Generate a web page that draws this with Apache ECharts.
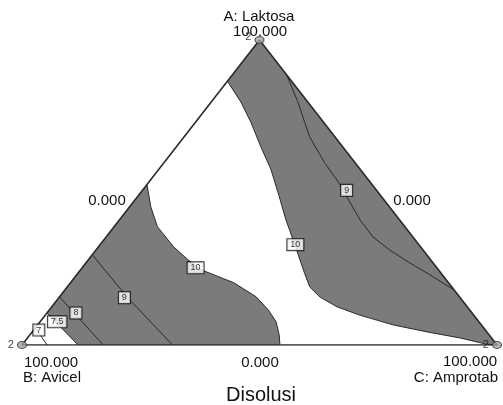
<!DOCTYPE html>
<html>
<head>
<meta charset="utf-8">
<script src="https://cdn.jsdelivr.net/npm/echarts@6/dist/echarts.min.js"></script>
<style>
html, body { margin: 0; padding: 0; background: #fff; }
#main { width: 503px; height: 405px; }
</style>
</head>
<body>
<div id="main"></div>
<script>
// mixture points are [A: Laktosa %, C: Amprotab %], B: Avicel = 100 - A - C
const vertexNames = ['A: Laktosa', 'B: Avicel', 'C: Amprotab'];
const vertexPoints = [[100, 0], [0, 0], [0, 100]];
const vertexRuns = ['2', '2', '2'];
const highTick = '100.000';
const lowTick = '0.000';
const chartTitle = 'Disolusi';

const contour10Left = [[52.6, 0], [45.4, 4.4], [38.8, 9.1], [32.2, 15.8], [28.0, 20.9], [24.7, 25.3],
  [20.4, 34.4], [15.8, 41.4], [11.5, 46.1], [7.6, 49.7], [3.3, 52.5], [0, 54.3]];
const contour10Right = [[86.5, 0], [79.6, 6.3], [73.0, 11.7], [65.1, 17.7], [57.6, 23.6], [48.7, 29.8],
  [41.1, 35.0], [32.6, 41.2], [23.7, 47.6], [19.0, 51.1], [15.7, 54.9], [12.5, 60.1], [9.8, 66.2],
  [6.6, 74.8], [4.3, 83.1], [2.3, 91.1], [0.3, 97.5], [0, 100]];
const contour9Right = [[88.6, 11.4], [79.6, 18.3], [68.4, 26.3], [59.9, 33.7], [53.3, 40.0], [46.6, 45.8],
  [41.0, 50.7], [35.4, 56.2], [31.1, 61.9], [26.9, 68.2], [23.0, 74.4], [18.0, 82.0]];
const contour9Left = [[29.6, 0], [15.5, 14.5], [0, 31.7]];
const contour8 = [[15.8, 0], [0, 17.1]];
const contour75 = [[10.5, 0], [0, 11.8]];
const contour7 = [[5.6, 0], [0, 5.3]];

const labelTexts = ['10', '9', '8', '7.5', '7', '10', '9'];
const labelPoints = [[25.3, 23.9], [15.5, 13.8], [10.5, 6.1], [7.6, 3.6], [4.9, 1.1], [32.9, 41.1], [50.7, 43.0]];

const fillGray = '#7b7b7b';
const lineDark = '#2a2a2a';
const font = 'Liberation Sans, Arial, sans-serif';

// ternary -> cartesian (B at left, C at right, A on top)
function toXY(p) {
  return [p[1] + p[0] / 2, p[0]];
}

function polySeries(points) {
  return {
    type: 'custom',
    coordinateSystem: 'cartesian2d',
    silent: true,
    z: 1,
    data: [[0, 0]],
    renderItem: function (params, api) {
      return {
        type: 'polygon',
        shape: { points: points.map(p => api.coord(toXY(p))) },
        style: { fill: fillGray, stroke: null }
      };
    }
  };
}

function lineSeries(points, width) {
  return {
    type: 'line',
    data: points.map(toXY),
    symbol: 'none',
    silent: true,
    z: 3,
    lineStyle: { color: lineDark, width: width || 1 }
  };
}

const rightFill = [[100, 0]].concat(contour10Right);
const leftFill = contour10Left.concat(contour75.slice().reverse());
const outline = vertexPoints.concat([vertexPoints[0]]);

function txt(text, x, y, size, align) {
  return {
    type: 'text',
    style: {
      text: text, x: x, y: y, fill: '#111',
      font: size + 'px ' + font,
      align: align || 'center', verticalAlign: 'middle'
    }
  };
}

const chart = echarts.init(document.getElementById('main'));
chart.setOption({
  animation: false,
  grid: { left: 22, right: 6, top: 40, bottom: 60 },
  xAxis: { type: 'value', min: 0, max: 100, show: false },
  yAxis: { type: 'value', min: 0, max: 100, show: false },
  graphic: [
    txt(vertexNames[0], 259, 17, 15),
    txt(highTick, 260, 32, 15),
    txt(lowTick, 107, 201, 15),
    txt(lowTick, 412, 201, 15),
    txt(highTick, 51, 363, 15),
    txt(vertexNames[1], 52, 378, 15),
    txt(lowTick, 260, 363, 15),
    txt(highTick, 470, 362, 15),
    txt(vertexNames[2], 498, 378, 15, 'right'),
    txt(chartTitle, 261, 395, 20)
  ],
  series: [
    polySeries(rightFill),
    polySeries(leftFill),
    lineSeries(contour10Left),
    lineSeries(contour10Right),
    lineSeries(contour9Left),
    lineSeries(contour9Right),
    lineSeries(contour8),
    lineSeries(contour75),
    lineSeries(contour7),
    lineSeries(outline, 1.6),
    {
      type: 'scatter',
      z: 5,
      silent: true,
      symbol: 'circle',
      symbolSize: [9, 7],
      itemStyle: { color: '#a0a0a0', borderColor: '#333', borderWidth: 1 },
      label: {
        show: true, position: 'left', distance: 3,
        fontSize: 11, fontFamily: font, color: '#111',
        formatter: p => vertexRuns[p.dataIndex]
      },
      data: vertexPoints.map((p, i) => ({
        value: toXY(p),
        label: i === 0 ? { offset: [0, -3] } : {}
      }))
    },
    {
      type: 'scatter',
      z: 6,
      silent: true,
      symbolSize: 0,
      label: {
        show: true, position: 'inside',
        fontSize: 9, lineHeight: 9, fontFamily: font, color: '#000',
        backgroundColor: '#fff', borderColor: '#000', borderWidth: 1,
        padding: [1, 3],
        formatter: p => labelTexts[p.dataIndex]
      },
      data: labelPoints.map(toXY)
    }
  ]
});
</script>
</body>
</html>
